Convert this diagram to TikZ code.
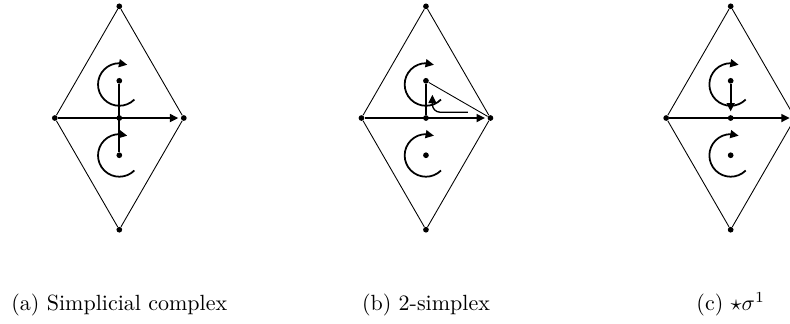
\documentclass[tikz,border=0pt]{standalone}
\usepackage{amsmath}
\usetikzlibrary{arrows.meta,bending}

\begin{document}
\begin{tikzpicture}[
x=1.03cm, y=1.03cm,
dot/.style={fill, circle, inner sep=0pt, minimum size=2.6pt},
edge/.style={thin},
dual/.style={thick},
arr/.style={-{Triangle[length=3.8pt,width=3.6pt]}, thick}
]
\useasboundingbox (-1.85,-3.18) rectangle (10.40,1.83);

\foreach \p/\x in {a/0, b/4.755, c/9.48} {
  \node[dot] (\p-t) at (\x,1.732) {};
  \node[dot] (\p-b) at (\x,-1.732) {};
  \node[dot] (\p-l) at (\x-1,0) {};
  \node[dot] (\p-r) at (\x+1,0) {};
  \node[dot] (\p-m) at (\x,0) {};
  \node[dot] (\p-u) at (\x,0.577) {};
  \node[dot] (\p-d) at (\x,-0.577) {};
  \coordinate (\p-cu) at (\x,0.52);
  \coordinate (\p-cd) at (\x,-0.58);
  \draw[edge] (\p-l) -- (\p-t) -- (\p-r) -- (\p-b) -- (\p-l);
  \draw[arr, shorten >=1pt] (\p-l) -- (\p-r);
  % orientation of both faces
  \draw[arr] ([shift={(-45:0.33)}]\p-cu) arc[start angle=-45, end angle=-292, radius=0.33];
  \draw[arr] ([shift={(-45:0.33)}]\p-cd) arc[start angle=-45, end angle=-292, radius=0.33];
}

% (a) dual edge
\draw[dual] (a-u) -- (a-d);

% (b) one face
\draw[edge] (b-u) -- (b-r);
\draw[dual] (b-u) -- (b-m);
\coordinate (b-s) at (4.755+0.65,0.09);
\draw[arr, semithick] (b-s) -- ++(-0.43,0) arc[start angle=-90, end angle=-180, radius=0.12] -- ++(0,0.15);

% (c) star of the edge
\draw[arr, shorten >=1.5pt] (c-u) -- (c-m);

\node[anchor=base] (cap-a) at (0,-2.98) {(a) Simplicial complex};
\node[anchor=base] (cap-b) at (4.755,-2.98) {(b) 2-simplex};
\node[anchor=base] (cap-c) at (9.48,-2.98) {(c) $\star\sigma^1$};
\end{tikzpicture}
\end{document}
